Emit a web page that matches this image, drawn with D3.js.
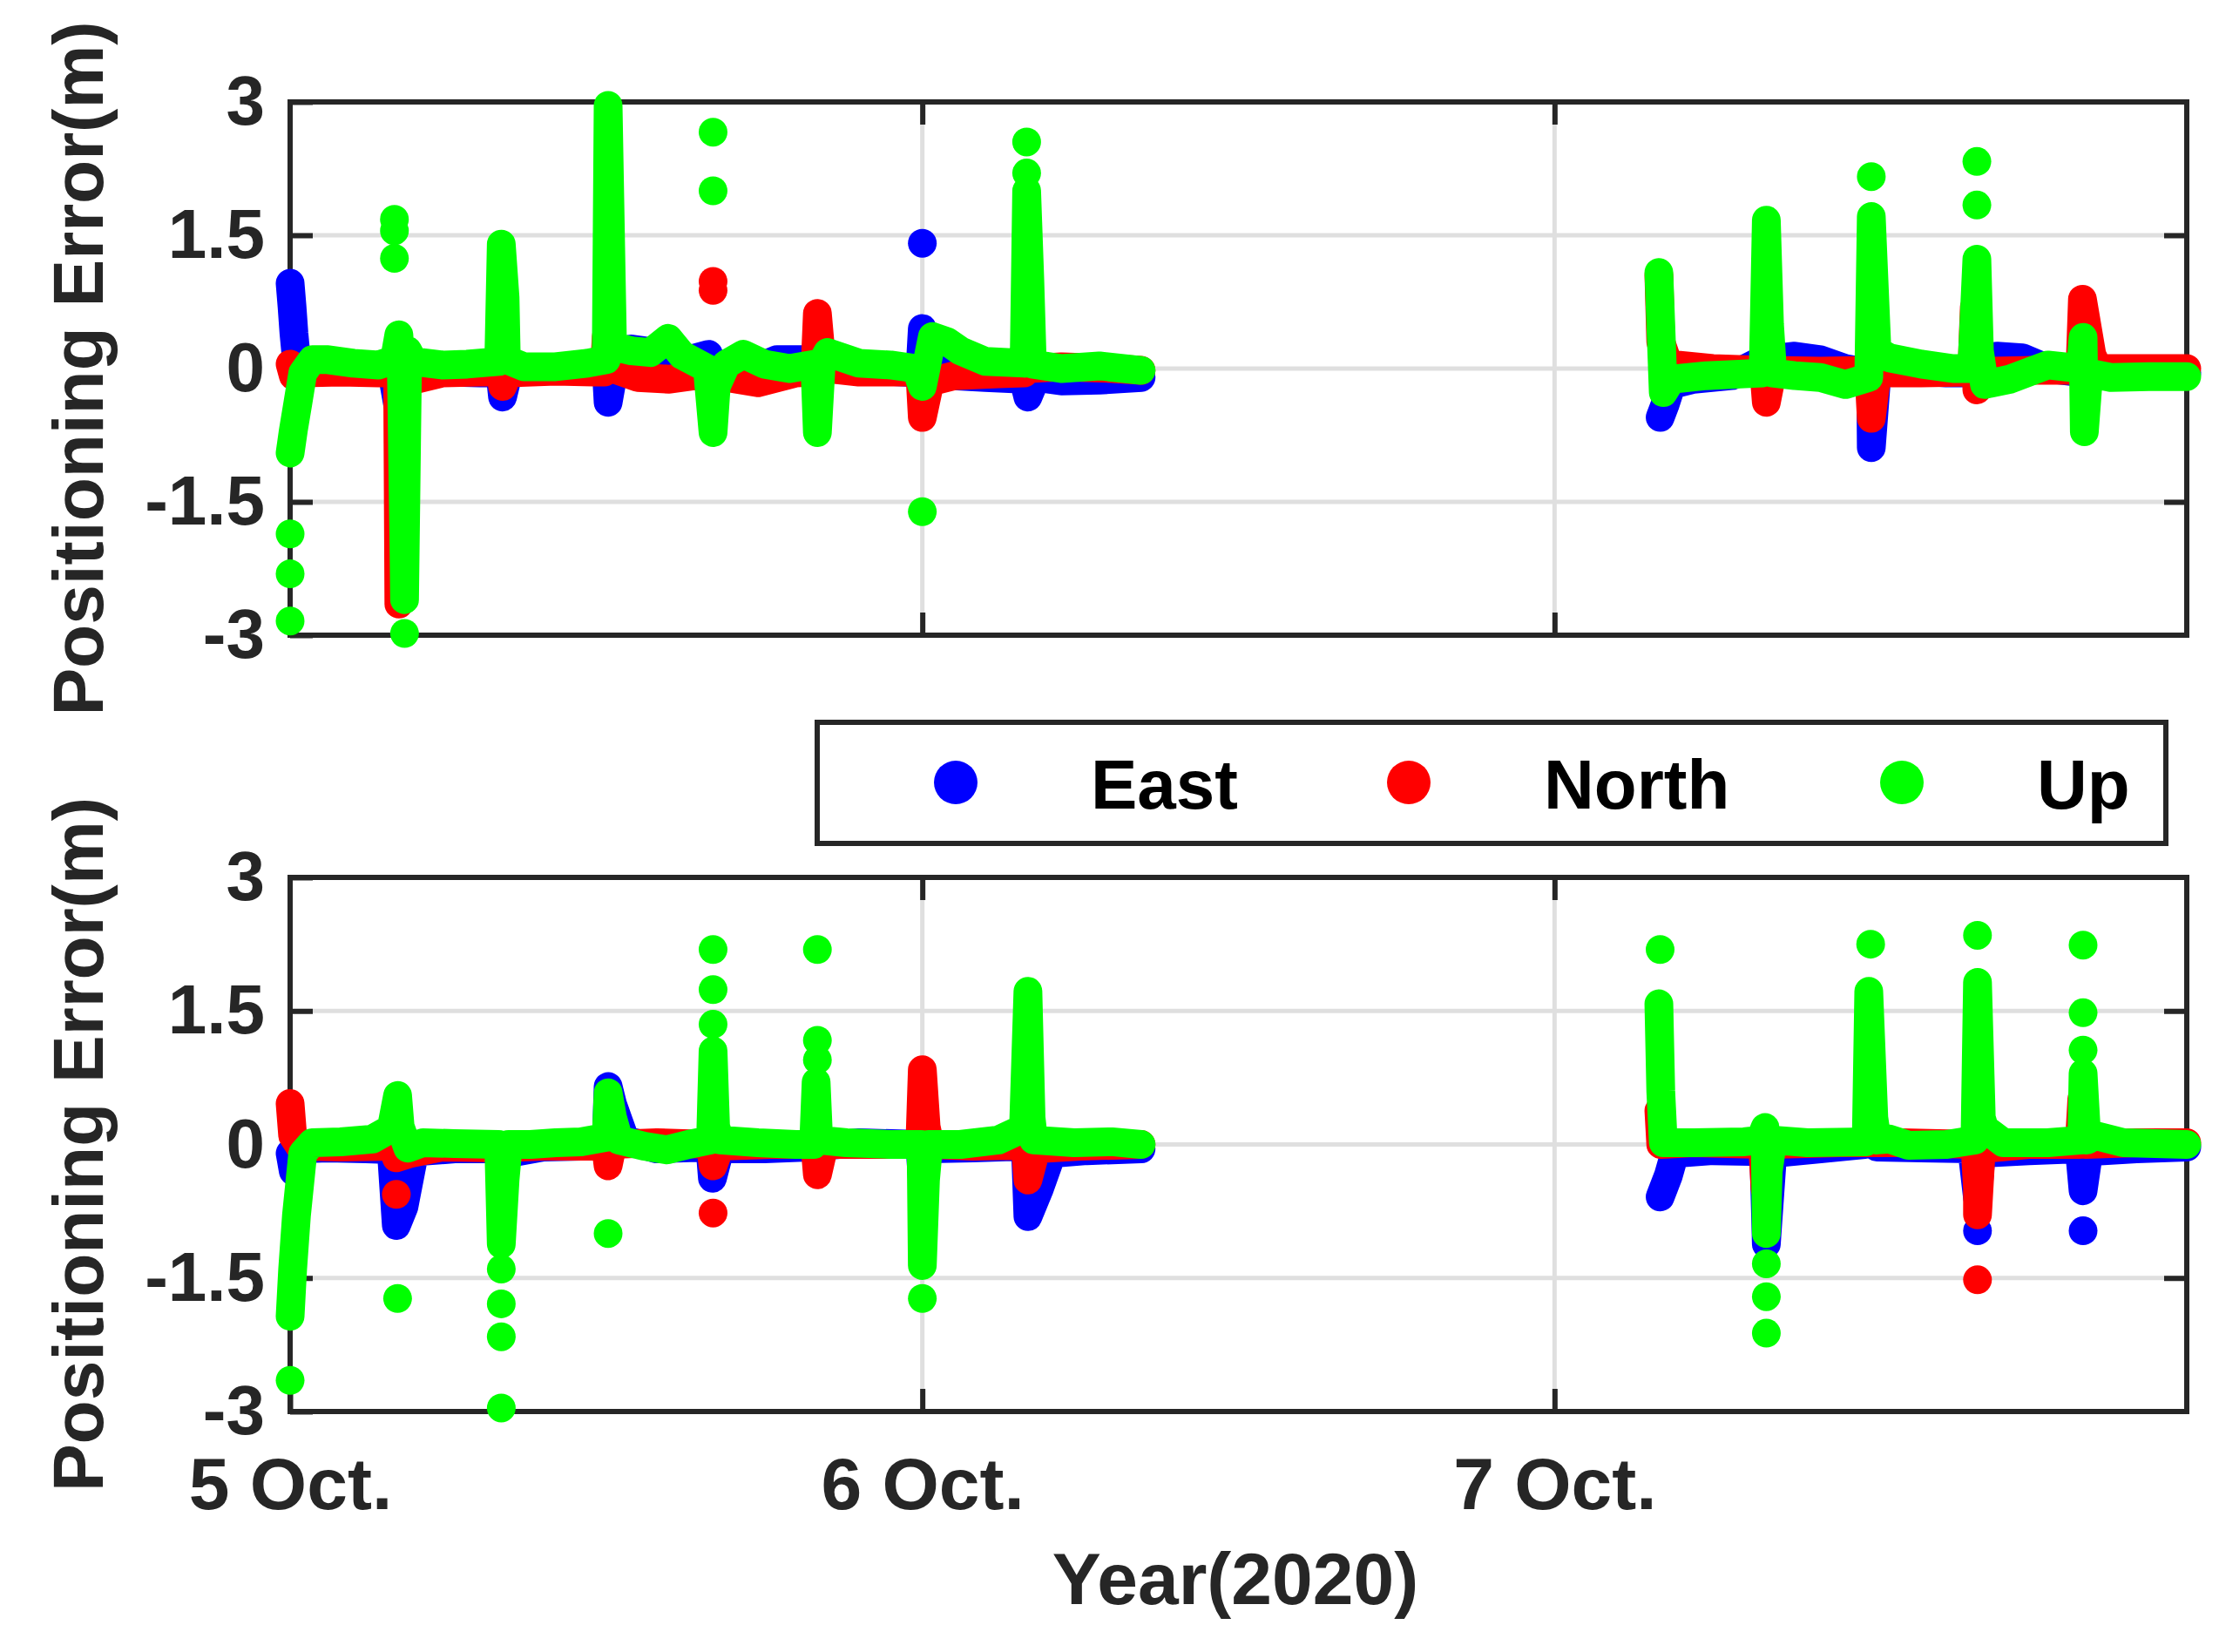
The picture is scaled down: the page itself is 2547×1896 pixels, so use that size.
<!DOCTYPE html>
<html>
<head>
<meta charset="utf-8">
<script src="https://cdn.jsdelivr.net/npm/d3@7/dist/d3.min.js"></script>
<style>
   body { margin: 0; background: #ffffff; }
   text { font-family: "Liberation Sans", Arial, Helvetica, sans-serif; font-weight: bold; }
</style>
</head>
<body>
<svg id="chart" width="2547" height="1896"></svg>
<script>

// TICKS & LABELS
var xTicks = [0, 1, 2];
var xTickLabels = ['5 Oct.', '6 Oct.', '7 Oct.'];
var yTicks = [-3, -1.5, 0, 1.5, 3];
var yTickLabels = ['-3', '-1.5', '0', '1.5', '3'];
var seriesNames = ['East', 'North', 'Up'];
var seriesColors = ['#0000ff', '#ff0000', '#00ff00'];

// TOP PANEL - DENSE TRACKS [day since 5 Oct, error m]
var topEast1 = [[0.000, 0.96], [0.003, 0.70], [0.006, 0.40], [0.010, 0.10], [0.030, 0.03], [0.08, 0.05], [0.12, 0.02], [0.16, 0.0], [0.170, -0.40], [0.180, -0.20], [0.19, 0.0], [0.25, -0.04], [0.30, -0.05], [0.332, -0.05], [0.336, -0.32], [0.345, -0.05], [0.40, 0.0], [0.45, 0.02], [0.50, 0.0], [0.503, -0.38], [0.51, -0.1], [0.54, 0.22], [0.58, 0.18], [0.62, 0.08], [0.662, 0.16], [0.667, -0.25], [0.68, 0.0], [0.72, -0.05], [0.77, 0.10], [0.82, 0.10], [0.86, 0.02], [0.92, -0.02], [0.996, -0.05], [1.0, 0.45], [1.02, 0.10], [1.05, -0.08], [1.10, -0.10], [1.16, -0.12], [1.167, -0.32], [1.18, -0.10], [1.22, -0.14], [1.28, -0.13], [1.346, -0.10]];
var topEast2 = [[2.167, -0.55], [2.175, -0.40], [2.185, -0.18], [2.22, -0.12], [2.28, -0.08], [2.33, 0.10], [2.38, 0.14], [2.42, 0.10], [2.46, 0.0], [2.50, -0.05], [2.501, -0.89], [2.51, -0.05], [2.56, -0.02], [2.62, -0.05], [2.668, -0.05], [2.70, 0.14], [2.74, 0.12], [2.78, 0.0], [2.838, -0.05], [2.90, -0.08], [3.0, -0.05]];
var topNorth1 = [[0.000, 0.05], [0.005, -0.08], [0.02, -0.05], [0.08, -0.04], [0.14, -0.05], [0.17, -0.05], [0.172, -2.65], [0.178, -2.2], [0.182, -0.1], [0.20, -0.12], [0.24, -0.05], [0.30, -0.04], [0.329, -0.04], [0.333, 0.28], [0.336, -0.2], [0.345, -0.05], [0.42, -0.03], [0.48, -0.04], [0.497, -0.04], [0.50, 0.36], [0.51, 0.0], [0.55, -0.1], [0.60, -0.12], [0.64, -0.08], [0.69, -0.10], [0.74, -0.16], [0.80, -0.05], [0.830, -0.04], [0.834, 0.62], [0.838, 0.30], [0.85, 0.0], [0.90, -0.04], [0.996, -0.04], [1.0, -0.55], [1.012, -0.15], [1.05, -0.08], [1.12, -0.06], [1.161, -0.05], [1.165, 0.37], [1.17, 0.0], [1.22, 0.02], [1.30, 0.0], [1.346, -0.02]];
var topNorth2 = [[2.165, 1.05], [2.168, 0.3], [2.18, 0.05], [2.25, 0.0], [2.331, -0.02], [2.335, -0.38], [2.345, -0.02], [2.42, -0.03], [2.497, -0.02], [2.501, -0.56], [2.51, -0.05], [2.58, -0.05], [2.660, -0.04], [2.664, 0.69], [2.668, -0.24], [2.68, -0.03], [2.76, -0.02], [2.831, -0.02], [2.835, 0.78], [2.85, 0.15], [2.86, 0.0], [2.95, 0.0], [3.0, 0.0]];
var topUp1 = [[0.000, -0.95], [0.005, -0.70], [0.012, -0.40], [0.020, -0.05], [0.035, 0.10], [0.06, 0.10], [0.10, 0.06], [0.14, 0.04], [0.165, 0.10], [0.172, 0.38], [0.176, 0.0], [0.178, -1.0], [0.180, -2.0], [0.181, -2.6], [0.183, -1.5], [0.186, 0.2], [0.195, 0.08], [0.24, 0.04], [0.28, 0.05], [0.330, 0.08], [0.334, 1.40], [0.340, 0.8], [0.342, 0.10], [0.37, 0.02], [0.42, 0.02], [0.47, 0.06], [0.50, 0.10], [0.503, 2.96], [0.508, 1.0], [0.510, 0.25], [0.54, 0.2], [0.57, 0.18], [0.598, 0.34], [0.62, 0.15], [0.66, 0.0], [0.669, -0.72], [0.674, -0.2], [0.69, 0.05], [0.717, 0.16], [0.75, 0.05], [0.79, 0.0], [0.830, 0.05], [0.834, -0.72], [0.840, 0.05], [0.85, 0.18], [0.90, 0.06], [0.95, 0.04], [0.99, 0.0], [1.0, -0.2], [1.016, 0.36], [1.04, 0.3], [1.06, 0.2], [1.10, 0.08], [1.161, 0.06], [1.165, 2.0], [1.170, 1.0], [1.174, 0.05], [1.22, 0.0], [1.28, 0.03], [1.346, -0.02]];
var topUp2 = [[2.165, 1.08], [2.168, 0.5], [2.172, -0.27], [2.185, -0.12], [2.24, -0.08], [2.30, -0.06], [2.33, -0.05], [2.335, 1.67], [2.340, 0.5], [2.345, -0.05], [2.38, -0.08], [2.42, -0.10], [2.46, -0.18], [2.497, -0.10], [2.501, 1.71], [2.51, 0.2], [2.53, 0.12], [2.58, 0.05], [2.63, 0.0], [2.66, 0.0], [2.668, 1.23], [2.672, 0.2], [2.68, -0.18], [2.72, -0.12], [2.78, 0.04], [2.832, 0.0], [2.836, 0.35], [2.838, -0.71], [2.845, -0.05], [2.88, -0.10], [2.94, -0.09], [3.0, -0.09]];

// TOP PANEL - ISOLATED POINTS
var topEastDots = [[1.0, 1.41]];
var topNorthDots = [[0.669, 0.98], [0.669, 0.88]];
var topUpDots = [[0.0, -1.86], [0.0, -2.31], [0.0, -2.84], [0.165, 1.68], [0.165, 1.55], [0.165, 1.24], [0.181, -2.98], [0.669, 2.66], [0.669, 2.0], [1.0, -1.61], [1.165, 2.55], [1.165, 2.2], [2.501, 2.16], [2.668, 1.84], [2.668, 2.33]];

// BOTTOM PANEL - DENSE TRACKS
var botEast1 = [[0.0, -0.1], [0.005, -0.3], [0.02, -0.05], [0.06, -0.04], [0.12, -0.05], [0.16, -0.06], [0.168, -0.91], [0.180, -0.7], [0.195, -0.15], [0.205, -0.08], [0.26, -0.05], [0.330, -0.05], [0.334, -0.3], [0.345, -0.1], [0.40, -0.03], [0.46, -0.02], [0.50, 0.0], [0.503, 0.65], [0.51, 0.45], [0.52, 0.25], [0.53, 0.05], [0.58, -0.05], [0.664, -0.03], [0.668, -0.38], [0.68, -0.05], [0.75, -0.05], [0.82, -0.03], [0.90, 0.02], [0.996, 0.0], [1.0, -0.4], [1.01, -0.05], [1.08, -0.04], [1.163, -0.02], [1.167, -0.81], [1.185, -0.5], [1.205, -0.1], [1.26, -0.07], [1.346, -0.05]];
var botEast2 = [[2.167, -0.59], [2.180, -0.35], [2.19, -0.1], [2.25, -0.07], [2.331, -0.08], [2.335, -1.12], [2.345, -0.1], [2.42, -0.05], [2.49, 0.0], [2.497, 0.27], [2.51, -0.03], [2.58, -0.04], [2.66, -0.05], [2.669, -0.6], [2.675, -0.1], [2.75, -0.07], [2.83, -0.05], [2.836, -0.52], [2.845, -0.08], [2.92, -0.05], [3.0, -0.03]];
var botNorth1 = [[0.0, 0.46], [0.004, 0.1], [0.015, -0.02], [0.08, -0.03], [0.164, -0.02], [0.168, -0.15], [0.19, -0.1], [0.24, -0.03], [0.33, -0.04], [0.40, -0.02], [0.499, -0.02], [0.503, -0.24], [0.51, 0.0], [0.58, 0.02], [0.665, 0.0], [0.669, -0.24], [0.68, -0.02], [0.76, 0.0], [0.83, 0.0], [0.834, -0.34], [0.845, 0.0], [0.92, 0.0], [0.996, 0.0], [1.0, 0.84], [1.006, 0.2], [1.012, 0.0], [1.08, -0.02], [1.163, -0.01], [1.167, -0.4], [1.18, -0.05], [1.25, -0.02], [1.346, 0.0]];
var botNorth2 = [[2.165, 0.38], [2.168, 0.0], [2.22, 0.02], [2.329, 0.0], [2.333, -0.5], [2.34, 0.0], [2.45, 0.02], [2.55, 0.02], [2.665, 0.0], [2.669, -0.5], [2.669, -0.79], [2.675, -0.05], [2.75, 0.0], [2.83, 0.0], [2.834, 0.51], [2.84, 0.0], [2.92, 0.02], [3.0, 0.02]];
var botUp1 = [[0.0, -1.93], [0.004, -1.4], [0.010, -0.8], [0.020, -0.1], [0.035, 0.02], [0.08, 0.03], [0.13, 0.06], [0.16, 0.18], [0.170, 0.55], [0.174, 0.2], [0.186, -0.04], [0.21, 0.02], [0.26, 0.01], [0.330, 0.0], [0.334, -1.12], [0.340, -0.4], [0.345, 0.0], [0.38, 0.0], [0.42, 0.02], [0.46, 0.03], [0.50, 0.08], [0.503, 0.58], [0.51, 0.3], [0.52, 0.05], [0.56, -0.02], [0.596, -0.06], [0.63, 0.0], [0.665, 0.05], [0.669, 1.05], [0.673, 0.2], [0.68, 0.05], [0.74, 0.02], [0.80, 0.0], [0.828, 0.0], [0.832, 0.7], [0.836, 0.05], [0.88, 0.02], [0.95, 0.0], [0.998, 0.0], [1.0, -1.36], [1.005, -0.4], [1.01, 0.0], [1.06, 0.0], [1.12, 0.05], [1.16, 0.18], [1.167, 1.72], [1.172, 0.3], [1.176, 0.05], [1.24, 0.02], [1.30, 0.03], [1.346, 0.0]];
var botUp2 = [[2.165, 1.58], [2.168, 0.6], [2.172, 0.02], [2.22, 0.02], [2.30, 0.03], [2.325, 0.05], [2.333, 0.19], [2.335, -1.0], [2.338, -0.3], [2.345, 0.05], [2.40, 0.02], [2.493, 0.03], [2.497, 1.72], [2.505, 0.3], [2.51, 0.05], [2.53, 0.06], [2.56, -0.01], [2.62, 0.0], [2.665, 0.05], [2.669, 1.82], [2.675, 0.3], [2.68, 0.18], [2.71, 0.02], [2.78, 0.02], [2.834, 0.05], [2.836, 0.80], [2.842, 0.05], [2.855, 0.10], [2.90, 0.02], [3.0, 0.0]];

// BOTTOM PANEL - ISOLATED POINTS
var botEastDots = [[2.669, -0.97], [2.836, -0.97]];
var botNorthDots = [[0.168, -0.56], [0.669, -0.77], [2.669, -1.52]];
var botUpDots = [[0.0, -2.65], [0.170, -1.73], [0.334, -1.4], [0.334, -1.79], [0.334, -2.16], [0.334, -2.96], [0.503, -1.0], [0.669, 1.35], [0.669, 1.74], [0.669, 2.19], [0.834, 2.19], [0.834, 1.17], [0.834, 0.95], [1.0, -1.73], [2.167, 2.19], [2.335, -1.34], [2.335, -1.71], [2.335, -2.12], [2.50, 2.25], [2.669, 2.35], [2.836, 1.06], [2.836, 1.48], [2.836, 2.24]];

// CANVAS
var svg = d3.select('#chart');
var axisColor = '#262626';
var markerR = 16.5;

// X-SCALING (SHARED BY BOTH PANELS)
var xScale = d3.scaleLinear()
   .domain([0, 3])
   .range([333, 2510]);

// DRAW ONE PANEL
function panel(top, bottom, tracks, dots, showX) {

   var yScale = d3.scaleLinear()
      .domain([-3, 3])
      .range([bottom, top]);

   var g = svg.append('g');

   // GRID
   g.selectAll('line.gy')
      .data([-1.5, 0, 1.5])
      .enter().append('line')
         .attr('x1', xScale(0)).attr('x2', xScale(3))
         .attr('y1', (d) => { return yScale(d) })
         .attr('y2', (d) => { return yScale(d) })
         .attr('stroke', '#dfdfdf')
         .attr('stroke-width', 5)

   g.selectAll('line.gx')
      .data([1, 2])
      .enter().append('line')
         .attr('x1', (d) => { return xScale(d) })
         .attr('x2', (d) => { return xScale(d) })
         .attr('y1', top).attr('y2', bottom)
         .attr('stroke', '#dfdfdf')
         .attr('stroke-width', 5)

   // BOX
   g.append('rect')
      .attr('x', xScale(0)).attr('y', top)
      .attr('width', xScale(3) - xScale(0))
      .attr('height', bottom - top)
      .attr('fill', 'none')
      .attr('stroke', axisColor)
      .attr('stroke-width', 6)

   // AXES WITH INWARD TICKS
   var left = d3.axisLeft(yScale).tickValues(yTicks).tickSizeInner(-26).tickSizeOuter(0).tickPadding(29)
      .tickFormat((d, i) => { return yTickLabels[i] });
   var right = d3.axisRight(yScale).tickValues(yTicks.slice(1, -1)).tickSizeInner(-26).tickSizeOuter(0).tickFormat('');
   var topAx = d3.axisTop(xScale).tickValues([1, 2]).tickSizeInner(-26).tickSizeOuter(0).tickFormat('');
   var bottomAx = d3.axisBottom(xScale).tickValues(showX ? xTicks : [1, 2]).tickSizeInner(-26).tickSizeOuter(0).tickPadding(52)
      .tickFormat((d, i) => { return showX ? xTickLabels[i] : '' });

   var axes = [
      g.append('g').attr('transform', 'translate(' + xScale(0) + ',0)').call(left),
      g.append('g').attr('transform', 'translate(' + xScale(3) + ',0)').call(right),
      g.append('g').attr('transform', 'translate(0,' + top + ')').call(topAx),
      g.append('g').attr('transform', 'translate(0,' + bottom + ')').call(bottomAx)
   ];
   axes.forEach((a) => {
      a.select('.domain').remove();
      a.selectAll('.tick line').attr('stroke', axisColor).attr('stroke-width', 6);
      a.selectAll('.tick text').attr('fill', axisColor);
      a.attr('font-family', null).attr('font-size', null);
   });
   axes[0].selectAll('.tick text').attr('font-size', 80);
   axes[3].selectAll('.tick text').attr('font-size', 84);

   // DATA: THICK TRACKS OF OVERLAPPING MARKERS, THEN SINGLE MARKERS
   var pathify = d3.line()
      .x((d) => { return xScale(d[0]) })
      .y((d) => { return yScale(d[1]) })

   tracks.forEach((segs, k) => {
      g.append('g').selectAll('path')
         .data(segs)
         .enter().append('path')
            .attr('d', (d) => { return pathify(d) })
            .attr('fill', 'none')
            .attr('stroke', seriesColors[k])
            .attr('stroke-width', markerR * 2)
            .attr('stroke-linejoin', 'round')
            .attr('stroke-linecap', 'round')

      g.append('g').selectAll('circle')
         .data(dots[k])
         .enter().append('circle')
            .attr('cx', (d) => { return xScale(d[0]) })
            .attr('cy', (d) => { return yScale(d[1]) })
            .attr('r', markerR)
            .attr('fill', seriesColors[k])
   });

   // Y LABEL
   svg.append('text')
      .attr('transform', 'translate(118,' + yScale(0) + ') rotate(-90)')
      .attr('text-anchor', 'middle')
      .attr('font-size', 82)
      .attr('fill', axisColor)
      .text('Positioning Error(m)')
}

panel(117, 729, [[topEast1, topEast2], [topNorth1, topNorth2], [topUp1, topUp2]], [topEastDots, topNorthDots, topUpDots], false);
panel(1007, 1620, [[botEast1, botEast2], [botNorth1, botNorth2], [botUp1, botUp2]], [botEastDots, botNorthDots, botUpDots], true);

// X LABEL
svg.append('text')
   .attr('x', 1418).attr('y', 1841)
   .attr('text-anchor', 'middle')
   .attr('font-size', 84)
   .attr('fill', axisColor)
   .text('Year(2020)')

// LEGEND
var legend = svg.append('g');
legend.append('rect')
   .attr('x', 938).attr('y', 829)
   .attr('width', 1548).attr('height', 139)
   .attr('fill', '#ffffff')
   .attr('stroke', axisColor)
   .attr('stroke-width', 6)

var legendMarkerX = [1097, 1617, 2183];
var legendTextX = [1252, 1772, 2338];

legend.selectAll('circle')
   .data(seriesNames)
   .enter().append('circle')
      .attr('cx', (d, i) => { return legendMarkerX[i] })
      .attr('cy', 898)
      .attr('r', 25)
      .attr('fill', (d, i) => { return seriesColors[i] })

legend.selectAll('text')
   .data(seriesNames)
   .enter().append('text')
      .attr('x', (d, i) => { return legendTextX[i] })
      .attr('y', 928)
      .attr('font-size', 80)
      .attr('fill', '#000000')
      .text((d) => { return d })

</script>
</body>
</html>
